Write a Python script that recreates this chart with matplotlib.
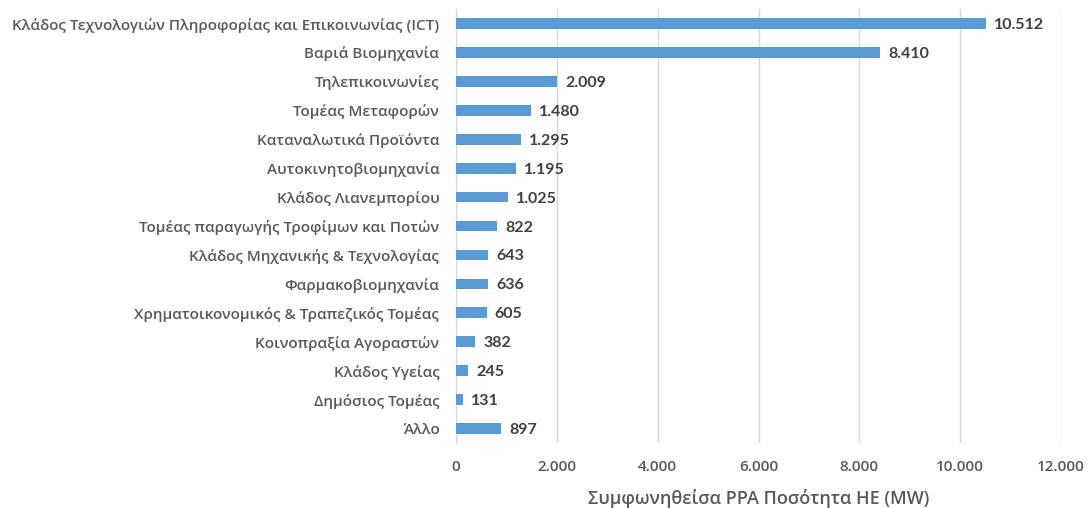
import numpy as np
import matplotlib.pyplot as plt
from matplotlib.ticker import FuncFormatter

plt.rcParams['font.family'] = ['Open Sans', 'DejaVu Sans']

categories = [
    "Κλάδος Τεχνολογιών Πληροφορίας και Επικοινωνίας (ICT)",
    "Βαριά Βιομηχανία",
    "Τηλεπικοινωνίες",
    "Τομέας Μεταφορών",
    "Καταναλωτικά Προϊόντα",
    "Αυτοκινητοβιομηχανία",
    "Κλάδος Λιανεμπορίου",
    "Τομέας παραγωγής Τροφίμων και Ποτών",
    "Κλάδος Μηχανικής & Τεχνολογίας",
    "Φαρμακοβιομηχανία",
    "Χρηματοικονομικός & Τραπεζικός Τομέας",
    "Κοινοπραξία Αγοραστών",
    "Κλάδος Υγείας",
    "Δημόσιος Τομέας",
    "Άλλο",
]
values = [10512, 8410, 2009, 1480, 1295, 1195, 1025, 822, 643, 636, 605, 382, 245, 131, 897]

text_color = '#595959'
bar_color = '#5b9bd5'


def fmt(v, pos=None):
    return f"{int(v):,}".replace(",", ".")


fig = plt.figure(figsize=(10.91, 5.08), dpi=100)
ax = fig.add_axes([0.418, 0.128, 0.5545, 0.854])

y = np.arange(len(categories))
ax.barh(y, values, height=0.37, color=bar_color, zorder=3)

for yi, v in zip(y, values):
    ax.text(v + 160, yi + 0.05, fmt(v), va='center', ha='left', fontsize=11.5,
            fontweight='bold', family=['Lato', 'DejaVu Sans'], color='#404040')

ax.set_xlim(0, 12000)
ax.set_ylim(len(categories) - 0.5, -0.5)
ax.set_xticks(np.arange(0, 12001, 2000))
ax.xaxis.set_major_formatter(FuncFormatter(fmt))
ax.set_yticks(y)
ax.set_yticklabels(categories)

ax.grid(axis='x', color='#d9d9d9', linewidth=1, zorder=0)
ax.tick_params(axis='both', length=0, colors=text_color, labelsize=11)
ax.tick_params(axis='x', pad=12)
ax.tick_params(axis='y', pad=12)
for lbl in ax.get_yticklabels() + ax.get_xticklabels():
    lbl.set_fontweight('semibold')

for s in ['top', 'right', 'bottom']:
    ax.spines[s].set_visible(False)
ax.spines['left'].set_color('#d9d9d9')

ax.set_xlabel("Συμφωνηθείσα PPA Ποσότητα ΗΕ (MW)", fontsize=13,
              fontweight='semibold', color=text_color, labelpad=11)

fig.savefig('out.png', dpi=100)
